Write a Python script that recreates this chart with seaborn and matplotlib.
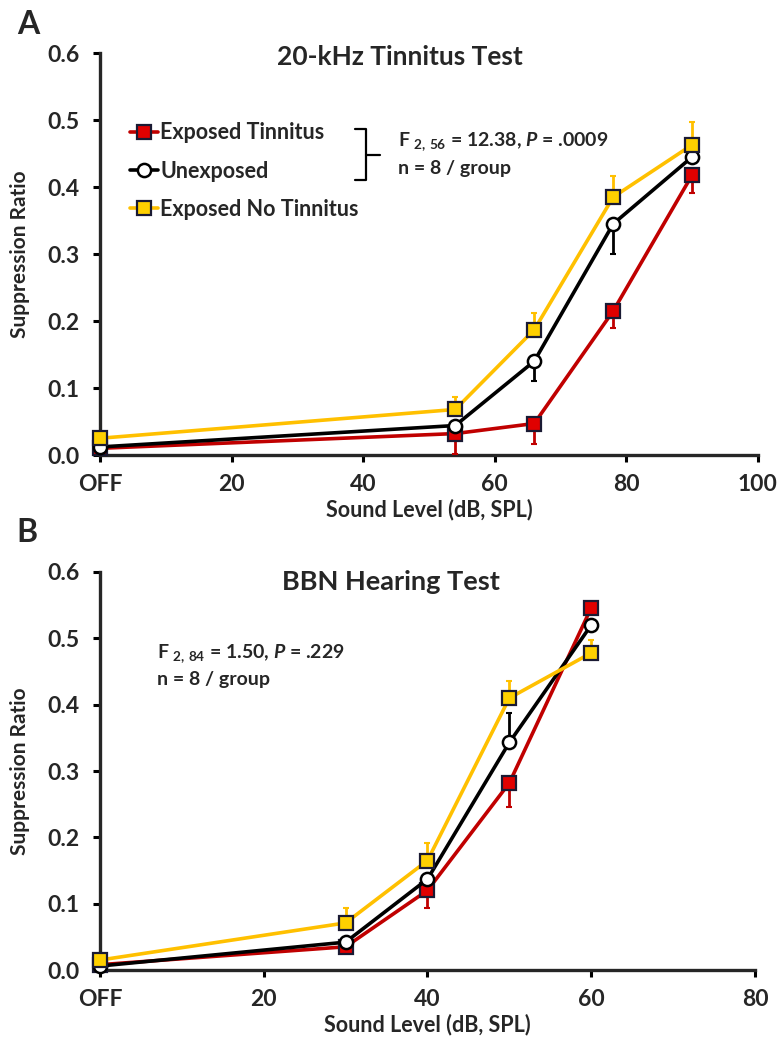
"""
Suppression ratio vs sound level: 20-kHz tinnitus test and BBN hearing test.
"""
import matplotlib
matplotlib.use('Agg')
import matplotlib.pyplot as plt
import seaborn as sns
import pandas as pd
import numpy as np

# ---- data ----
groups = ['Exposed Tinnitus', 'Unexposed', 'Exposed No Tinnitus']

# panel A: 20-kHz tinnitus test
a_levels = [0, 54, 66, 78, 90]
a_tinnitus = [0.010, 0.032, 0.047, 0.215, 0.418]
a_unexposed = [0.012, 0.044, 0.140, 0.345, 0.445]
a_no_tinnitus = [0.025, 0.068, 0.187, 0.385, 0.463]
a_err_lo = {'Exposed Tinnitus': [0, 0.030, 0.030, 0.025, 0.027],
            'Unexposed': [0, 0, 0.030, 0.045, 0],
            'Exposed No Tinnitus': [0, 0, 0, 0, 0]}
a_err_hi = {'Exposed Tinnitus': [0, 0, 0, 0, 0],
            'Unexposed': [0, 0, 0, 0, 0],
            'Exposed No Tinnitus': [0.005, 0.018, 0.025, 0.032, 0.034]}

# panel B: BBN hearing test
b_levels = [0, 30, 40, 50, 60]
b_tinnitus = [0.008, 0.035, 0.120, 0.282, 0.546]
b_unexposed = [0.006, 0.042, 0.137, 0.343, 0.520]
b_no_tinnitus = [0.015, 0.071, 0.165, 0.410, 0.478]
b_err_lo = {'Exposed Tinnitus': [0, 0, 0.027, 0.037, 0],
            'Unexposed': [0, 0, 0, 0, 0],
            'Exposed No Tinnitus': [0, 0, 0, 0, 0]}
b_err_hi = {'Exposed Tinnitus': [0, 0, 0, 0, 0],
            'Unexposed': [0, 0, 0, 0.045, 0],
            'Exposed No Tinnitus': [0, 0.022, 0.027, 0.025, 0.020]}

a_xticks = [0, 20, 40, 60, 80, 100]
a_xticklabels = ['OFF', '20', '40', '60', '80', '100']
b_xticks = [0, 20, 40, 60, 80]
b_xticklabels = ['OFF', '20', '40', '60', '80']
yticks = [0.0, 0.1, 0.2, 0.3, 0.4, 0.5, 0.6]

# ---- styling ----
sns.set_style('ticks')
FONT = 'Lato'
plt.rcParams['font.family'] = [FONT, 'DejaVu Sans']
plt.rcParams['mathtext.fontset'] = 'custom'
plt.rcParams['mathtext.rm'] = FONT + ':bold'
plt.rcParams['mathtext.it'] = FONT + ':italic:bold'
plt.rcParams['mathtext.bf'] = FONT + ':bold'

line_colors = {'Exposed Tinnitus': '#C00000', 'Unexposed': '#000000',
               'Exposed No Tinnitus': '#FFC000'}
marker_style = {
    'Exposed Tinnitus': dict(marker='s', markersize=10, markerfacecolor='#E00000',
                             markeredgecolor='#1a1a33', markeredgewidth=1.6),
    'Unexposed': dict(marker='o', markersize=9.5, markerfacecolor='white',
                      markeredgecolor='black', markeredgewidth=1.8),
    'Exposed No Tinnitus': dict(marker='s', markersize=10, markerfacecolor='#FFD000',
                                markeredgecolor='#1a1a33', markeredgewidth=1.6),
}


def make_frame(levels, tin, unexp, notin):
    rows = []
    for g, vals in zip(groups, [tin, unexp, notin]):
        for x, v in zip(levels, vals):
            rows.append({'level': x, 'ratio': v, 'group': g})
    return pd.DataFrame(rows)


def draw_panel(ax, df, err_lo, err_hi, xmax, xticks, xticklabels):
    for i, g in enumerate(groups):
        sub = df[df['group'] == g]
        # error bars first, one-sided
        ax.errorbar(sub['level'], sub['ratio'],
                    yerr=[err_lo[g], err_hi[g]], fmt='none',
                    ecolor=line_colors[g], elinewidth=2, capsize=2.5,
                    capthick=1.5, zorder=3 + i, clip_on=False)
        sns.lineplot(data=sub, x='level', y='ratio', ax=ax, label=g,
                     color=line_colors[g], linewidth=2.6, errorbar=None,
                     zorder=4 + i, clip_on=False, **marker_style[g])
    ax.set_xlim(0, xmax)
    ax.set_ylim(0, 0.6)
    ax.set_xticks(xticks)
    ax.set_xticklabels(xticklabels)
    ax.set_yticks(yticks)
    ax.set_yticklabels([f'{t:.1f}' for t in yticks])
    sns.despine(ax=ax)
    for s in ['left', 'bottom']:
        ax.spines[s].set_linewidth(2.4)
    ax.tick_params(axis='both', direction='out', length=5, width=2.2,
                   labelsize=16.5, color='black')
    ax.tick_params(axis='x', pad=9)
    ax.tick_params(axis='y', pad=10)
    for lab in ax.get_xticklabels() + ax.get_yticklabels():
        lab.set_fontweight('bold')
    ax.set_xlabel('Sound Level (dB, SPL)', fontsize=15.5, fontweight='bold', labelpad=2)
    ax.set_ylabel('Suppression Ratio', fontsize=15, fontweight='bold', labelpad=12)


fig = plt.figure(figsize=(7.81, 10.40), dpi=100)
ax_a = fig.add_axes([0.128, 0.5625, 0.8425, 0.3865])
ax_b = fig.add_axes([0.128, 0.0673, 0.8387, 0.3827])

df_a = make_frame(a_levels, a_tinnitus, a_unexposed, a_no_tinnitus)
df_b = make_frame(b_levels, b_tinnitus, b_unexposed, b_no_tinnitus)

draw_panel(ax_a, df_a, a_err_lo, a_err_hi, 100, a_xticks, a_xticklabels)
draw_panel(ax_b, df_b, b_err_lo, b_err_hi, 80, b_xticks, b_xticklabels)

# titles
ax_a.text(0.456, 0.99, '20-kHz Tinnitus Test', transform=ax_a.transAxes,
          ha='center', va='center', fontsize=19, fontweight='bold')
ax_b.text(0.444, 0.975, 'BBN Hearing Test', transform=ax_b.transAxes,
          ha='center', va='center', fontsize=19.5, fontweight='bold')

# legend in panel A only
ax_a.legend(loc='center left', bbox_to_anchor=(0.045, 0.706), frameon=False,
            prop={'weight': 'bold', 'size': 15.5},
            handlelength=1.3, handletextpad=0.12, labelspacing=0.8,
            borderpad=0, borderaxespad=0)
ax_b.get_legend().remove()

# bracket grouping the first two legend entries
ax_a.plot([0.3875, 0.404, 0.404, 0.3875], [0.811, 0.811, 0.684, 0.684],
          transform=ax_a.transAxes, color='black', lw=1.6, clip_on=False)
ax_a.plot([0.404, 0.4255], [0.7475, 0.7475], transform=ax_a.transAxes,
          color='black', lw=1.6, clip_on=False)

# statistics
ax_a.text(0.453, 0.779, r'F $_{2,\,56}$ = 12.38, $P$ = .0009', transform=ax_a.transAxes,
          ha='left', va='center', fontsize=14, fontweight='bold')
ax_a.text(0.453, 0.714, 'n = 8 / group', transform=ax_a.transAxes,
          ha='left', va='center', fontsize=14, fontweight='bold')
ax_b.text(0.087, 0.796, r'F $_{2,\,84}$ = 1.50, $P$ = .229', transform=ax_b.transAxes,
          ha='left', va='center', fontsize=14, fontweight='bold')
ax_b.text(0.087, 0.729, 'n = 8 / group', transform=ax_b.transAxes,
          ha='left', va='center', fontsize=14, fontweight='bold')

# panel letters
fig.text(0.036, 0.976, 'A', ha='center', va='center', fontsize=23, fontweight='bold')
fig.text(0.035, 0.4875, 'B', ha='center', va='center', fontsize=23, fontweight='bold')

fig.savefig('out.png', dpi=100, facecolor='white')
